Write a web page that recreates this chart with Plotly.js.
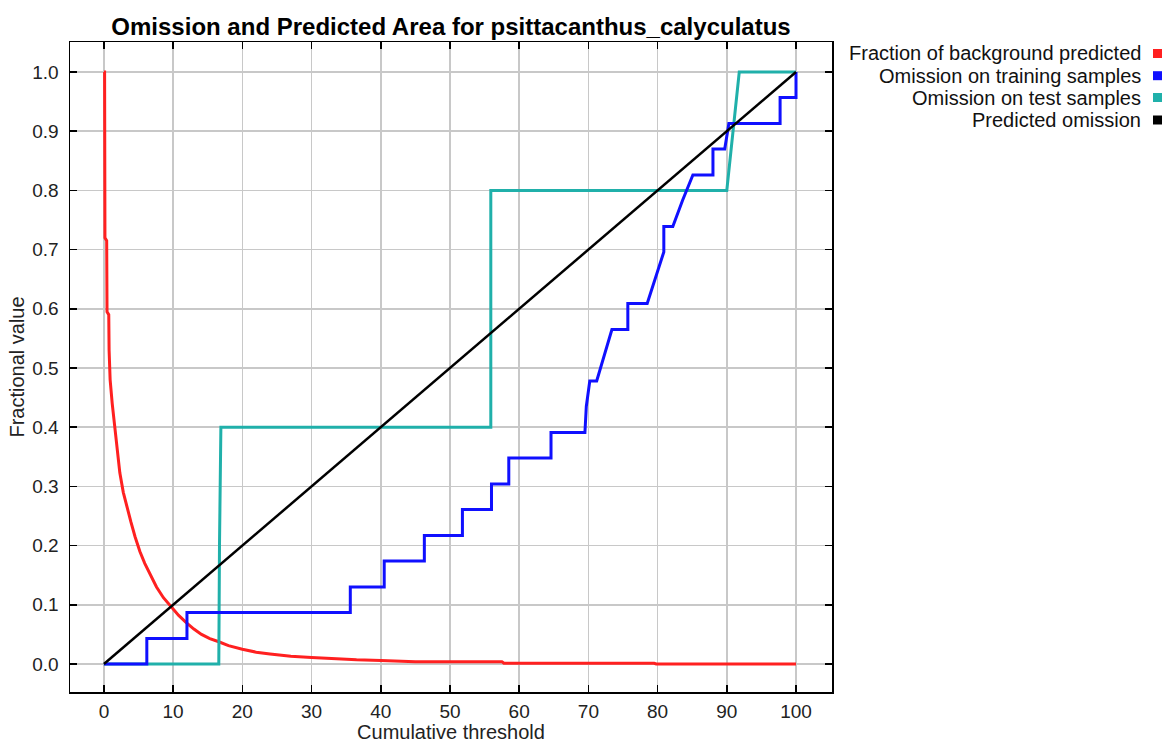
<!DOCTYPE html>
<html>
<head>
<meta charset="utf-8">
<script src="https://cdn.plot.ly/plotly-3.0.1.min.js"></script>
<style>html,body{margin:0;padding:0;background:#fff;}#chart{width:1165px;height:743px;}</style>
</head>
<body>
<div id="chart"></div>
<script>
// ---- data ----
const seriesNames = ["Fraction of background predicted", "Omission on training samples", "Omission on test samples", "Predicted omission"];
const seriesColors = ["#ff2020", "#1010ff", "#20b0aa", "#000000"];

const bgX = [0, 0.1, 0.15, 0.4, 0.45, 0.7, 0.75, 0.9, 1.2, 1.6, 2.0, 2.3, 2.8, 3.3, 3.9, 4.5, 5.2, 5.9, 6.7, 7.6, 8.6, 9.8, 10.8, 11.9, 13, 14.1, 15.3, 16.5, 18, 20, 22, 24, 27, 30, 33, 36.5, 40, 44.7, 45, 57.5, 57.8, 79.5, 79.8, 100];
const bgY = [1.0, 1.0, 0.72, 0.715, 0.595, 0.59, 0.53, 0.48, 0.44, 0.40, 0.36, 0.323, 0.29, 0.265, 0.24, 0.215, 0.19, 0.17, 0.15, 0.13, 0.112, 0.096, 0.082, 0.07, 0.059, 0.05, 0.043, 0.038, 0.031, 0.025, 0.02, 0.017, 0.013, 0.011, 0.009, 0.007, 0.006, 0.0045, 0.004, 0.004, 0.0012, 0.0012, 0.0, 0.0];

const trainX = [0, 6.2, 6.2, 12, 12, 35.6, 35.6, 40.5, 40.5, 46.3, 46.3, 51.8, 51.8, 56, 56, 58.5, 58.5, 64.6, 64.6, 69.5, 69.7, 70.2, 71.2, 72.3, 73.4, 75.7, 75.7, 78.5, 79.7, 80.9, 80.9, 82.2, 83.6, 85.1, 88, 88, 89.7, 90.3, 97.7, 97.7, 100, 100];
const trainY = [0, 0, 0.043, 0.043, 0.087, 0.087, 0.130, 0.130, 0.174, 0.174, 0.217, 0.217, 0.261, 0.261, 0.304, 0.304, 0.348, 0.348, 0.391, 0.391, 0.435, 0.478, 0.478, 0.522, 0.565, 0.565, 0.609, 0.609, 0.652, 0.696, 0.739, 0.739, 0.783, 0.826, 0.826, 0.870, 0.870, 0.913, 0.913, 0.957, 0.957, 1.0];

const testX = [0, 16.6, 16.7, 16.9, 55.9, 55.9, 90.0, 91.8, 100];
const testY = [0, 0, 0.2, 0.4, 0.4, 0.8, 0.8, 1.0, 1.0];

const predX = [0, 100];
const predY = [0, 1];

const titleText = "Omission and Predicted Area for psittacanthus_calyculatus";
const xTitle = "Cumulative threshold";
const yTitle = "Fractional value";

// ---- chart ----
const FONT = "Liberation Sans, Arial, Helvetica, sans-serif";
const W = 1165, H = 743;
const M = {l: 70, r: 333, t: 42, b: 51};
const pw = W - M.l - M.r, ph = H - M.t - M.b;
const px2x = p => (p - M.l) / pw;
const py2y = p => (H - M.b - p) / ph;

const traces = [
  {x: bgX, y: bgY, name: seriesNames[0], line: {color: seriesColors[0], width: 3}},
  {x: testX, y: testY, name: seriesNames[2], line: {color: seriesColors[2], width: 3}},
  {x: trainX, y: trainY, name: seriesNames[1], line: {color: seriesColors[1], width: 3}},
  {x: predX, y: predY, name: seriesNames[3], line: {color: seriesColors[3], width: 2.5}}
].map(t => Object.assign({type: 'scatter', mode: 'lines', hoverinfo: 'skip'}, t));

const annotations = [], shapes = [];
const legendRows = [53.5, 75.7, 97.5, 120];
seriesNames.forEach((n, i) => {
  annotations.push({
    xref: 'paper', yref: 'paper', x: px2x(1143), y: py2y(legendRows[i]),
    xanchor: 'right', yanchor: 'middle', showarrow: false, text: n,
    font: {family: FONT, size: 20, color: '#111'}
  });
  shapes.push({
    type: 'rect', xref: 'paper', yref: 'paper',
    x0: px2x(1153), x1: px2x(1162), y0: py2y(legendRows[i] + 4.5), y1: py2y(legendRows[i] - 4.5),
    fillcolor: seriesColors[i], line: {width: 0}
  });
});

const axisCommon = {
  showline: true, linecolor: '#000', linewidth: 1.5, mirror: 'allticks',
  ticks: 'inside', ticklen: 7, tickwidth: 1.5, tickcolor: '#000',
  showgrid: true, gridcolor: '#c8c8c8', gridwidth: 1.5, zeroline: false,
  tickfont: {family: FONT, size: 19, color: '#222'}
};

const layout = {
  width: W, height: H, margin: M,
  paper_bgcolor: '#fff', plot_bgcolor: '#fff', showlegend: false,
  title: {text: '<b>' + titleText + '</b>', x: 451 / W, xanchor: 'center', y: 1 - 27 / H, yanchor: 'middle',
          font: {family: FONT, size: 24, color: '#000'}},
  xaxis: Object.assign({}, axisCommon, {range: [-4.9, 105.2], tick0: 0, dtick: 10, ticklabelstandoff: 2,
          title: {text: xTitle, standoff: 6, font: {family: FONT, size: 20, color: '#222'}}}),
  yaxis: Object.assign({}, axisCommon, {range: [-0.0473, 1.0507], tick0: 0, dtick: 0.1, tickformat: '.1f', ticklabelstandoff: 6,
          title: {text: yTitle, standoff: 2, font: {family: FONT, size: 20, color: '#222'}}}),
  annotations: annotations, shapes: shapes
};

Plotly.newPlot('chart', traces, layout, {staticPlot: true, displayModeBar: false});
</script>
</body>
</html>
